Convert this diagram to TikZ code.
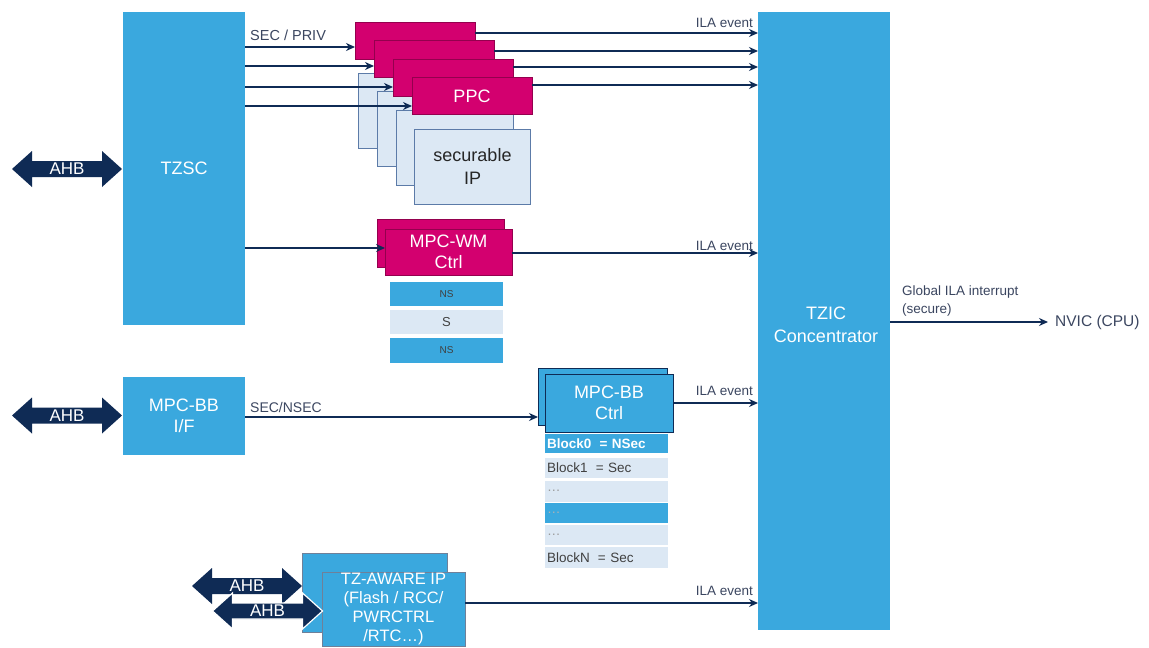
\documentclass[tikz,border=0pt]{standalone}
\usepackage{fontspec}
\setmainfont{Liberation Sans}
\usetikzlibrary{arrows.meta}
\definecolor{stblue}{HTML}{3AA8DE}
\definecolor{stpink}{HTML}{D3006F}
\definecolor{ltblue}{HTML}{DCE8F4}
\definecolor{navy}{HTML}{0F2B55}
\definecolor{lbl}{HTML}{3B4660}
\definecolor{edgeblue}{HTML}{5C7BA8}
\newcommand{\fsz}[2]{\fontsize{#1}{#2}\selectfont}
\newcommand{\ahbarrow}[4]{%
  \path[fill=navy,#4] ({#1-55},{#2}) -- ({#1-35},{#2-18}) -- ({#1-35},{#2-8}) -- ({#1+35},{#2-8}) -- ({#1+35},{#2-18}) -- ({#1+55},{#2}) -- ({#1+35},{#2+18}) -- ({#1+35},{#2+8}) -- ({#1-35},{#2+8}) -- ({#1-35},{#2+18}) -- cycle;
  \node[ahbtext] (#3) at (#1,#2) {AHB};}
\begin{document}
\begin{tikzpicture}[x=1pt,y=-1pt,
  bluebox/.style={fill=stblue, draw=none, text=white, align=center, inner sep=0pt, outer sep=0pt, font=\fsz{18}{21}},
  ctrlbox/.style={bluebox, draw=navy, line width=0.8pt},
  pinkbox/.style={fill=stpink, draw=stpink!70!black, line width=0.5pt, text=white, align=center, inner sep=0pt, outer sep=0pt, font=\fsz{18}{21}},
  ipbox/.style={fill=ltblue, draw=edgeblue, line width=0.8pt, text=black!85, align=center, inner sep=0pt, outer sep=0pt, font=\fsz{18}{23}},
  rowbox/.style={inner sep=0pt, outer sep=0pt, minimum width=123pt, text width=119pt, align=left, font=\fsz{13.5}{15}, text=black!75},
  nsrow/.style={inner sep=0pt, outer sep=0pt, minimum width=113pt, align=center, text=black!75},
  ahbtext/.style={text=white, font=\fsz{17}{19}, inner sep=0pt},
  lbl/.style={text=lbl, inner sep=0pt, font=\fsz{13.5}{15}},
  arr/.style={draw=navy, line width=1.4pt, -{Stealth[length=9pt,width=8pt]}},
  ln/.style={draw=navy, line width=1.4pt}
]
\useasboundingbox[fill=white] (0,0) rectangle (1149,648);

% main blocks
\node[bluebox, minimum width=122pt, minimum height=313pt] (tzsc) at (184,168.5) {TZSC};
\node[bluebox, minimum width=132pt, minimum height=618pt] (tzic) at (824,321) {};
\node[text=white, align=center, font=\fsz{18}{23}] (tzictext) at (826,325) {TZIC\\Concentrator};
\node[bluebox, minimum width=122pt, minimum height=78pt] (mpcbbif) at (184,416) {MPC-BB\\I/F};

% AHB arrows
\ahbarrow{67}{169}{ahbtop}{}
\ahbarrow{67}{415.5}{ahbmid}{}

% PPC stack
\node[ipbox, minimum width=117pt, minimum height=75pt] (ip0) at (416.5,110.5) {};
\node[pinkbox, minimum width=120pt, minimum height=37pt] (pink0) at (415,40.5) {};
\node[ipbox, minimum width=117pt, minimum height=75pt] (ip1) at (435.5,129.2) {};
\node[pinkbox, minimum width=120pt, minimum height=37pt] (pink1) at (434,59) {};
\node[ipbox, minimum width=117pt, minimum height=75pt] (ip2) at (454.5,147.9) {};
\node[pinkbox, minimum width=120pt, minimum height=37pt] (pink2) at (453,77.5) {};
\node[ipbox, minimum width=116pt, minimum height=75pt] (ip3) at (472.5,166.6) {securable\\IP};
\node[pinkbox, minimum width=120pt, minimum height=37pt] (pink3) at (472,96) {PPC};

\node[lbl, anchor=base west, font=\fsz{14.5}{16}] (secpriv) at (250,40) {SEC / PRIV};
\draw[arr] (tzsc.east |- 0,47) -- (pink0.west |- 0,47);
\draw[arr] (tzsc.east |- 0,66) -- (pink1.west |- 0,66);
\draw[arr] (tzsc.east |- 0,87) -- (pink2.west |- 0,87);
\draw[arr] (tzsc.east |- 0,106) -- (pink3.west |- 0,106);

\draw[arr] (pink0.east |- 0,33) -- (tzic.west |- 0,33);
\draw[arr] (pink1.east |- 0,51) -- (tzic.west |- 0,51);
\draw[arr] (pink2.east |- 0,67) -- (tzic.west |- 0,67);
\draw[arr] (pink3.east |- 0,85) -- (tzic.west |- 0,85);
\node[lbl, anchor=base east] (ila1) at (753,27) {ILA event};

% MPC-WM
\node[pinkbox, minimum width=127pt, minimum height=48pt] (wmback) at (440.5,243) {};
\node[pinkbox, minimum width=127pt, minimum height=46pt] (wm) at (448.5,252) {MPC-WM\\Ctrl};
\node[nsrow, fill=stblue, minimum height=24pt, font=\fsz{10}{12}] (ns1) at (446.5,294) {NS};
\node[nsrow, fill=ltblue, minimum height=24pt, font=\fsz{13}{15}] (s1) at (446.5,322) {S};
\node[nsrow, fill=stblue, minimum height=25pt, font=\fsz{10}{12}] (ns2) at (446.5,350) {NS};
\draw[arr] (tzsc.east |- 0,248) -- (wm.west |- 0,248);
\draw[arr] (wm.east |- 0,253) -- (tzic.west |- 0,253);
\node[lbl, anchor=base east] (ila2) at (753,250) {ILA event};

% MPC-BB
\node[ctrlbox, minimum width=129pt, minimum height=57pt] (bbback) at (602.5,396.5) {};
\node[ctrlbox, minimum width=128pt, minimum height=58pt] (bb) at (609,403) {MPC-BB\\Ctrl};
\node[rowbox, fill=stblue, minimum height=19pt, text=white, font=\fsz{13.5}{15}\bfseries] (r0) at (606.5,443.5) {Block0 \;= NSec};
\node[rowbox, fill=ltblue, minimum height=20pt] (r1) at (606.5,467.5) {Block1 \;= Sec};
\node[rowbox, fill=ltblue, minimum height=21pt, text=black!40] (r2) at (606.5,491) {…};
\node[rowbox, fill=stblue, minimum height=20pt, text=black!30] (r3) at (606.5,513) {…};
\node[rowbox, fill=ltblue, minimum height=20pt, text=black!40] (r4) at (606.5,535) {…};
\node[rowbox, fill=ltblue, minimum height=21pt] (r5) at (606.5,557.5) {BlockN \;= Sec};
\node[lbl, anchor=base west, font=\fsz{14}{16}] (secnsec) at (250,412) {SEC/NSEC};
\draw[arr] (mpcbbif.east |- 0,417) -- (bbback.west |- 0,417);
\draw[arr] (bb.east |- 0,403) -- (tzic.west |- 0,403);
\node[lbl, anchor=base east] (ila3) at (753,395) {ILA event};

% TZ-AWARE IP
\node[ctrlbox, draw=navy!60, minimum width=145pt, minimum height=79pt] (tzback) at (374.5,592.5) {};
\node[ctrlbox, draw=navy!60, minimum width=143pt, minimum height=74pt, font=\fsz{16.5}{19}] (tz) at (393.5,609) {TZ-AWARE IP\\(Flash / RCC/\\PWRCTRL\\/RTC…)};
\ahbarrow{247}{586}{ahbb1}{}
\ahbarrow{267.5}{611}{ahbb2}{draw=white, line width=1.2pt}
\draw[arr] (tz.east |- 0,603) -- (tzic.west |- 0,603);
\node[lbl, anchor=base east] (ila4) at (753,595) {ILA event};

% global interrupt
\node[lbl, anchor=west, font=\fsz{15.5}{17}] (nvic) at (1055,322) {NVIC (CPU)};
\draw[arr, shorten >=7pt] (tzic.east |- nvic.west) -- (nvic.west);
\node[lbl, anchor=base west] (glob1) at (902,295) {Global ILA interrupt};
\node[lbl, anchor=base west] (glob2) at (902,313) {(secure)};
\end{tikzpicture}
\end{document}
